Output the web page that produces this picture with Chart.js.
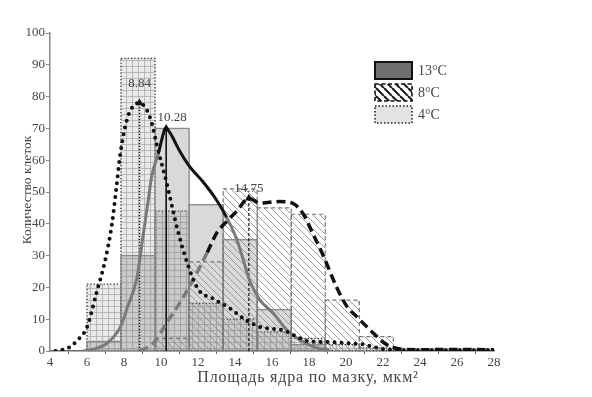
<!DOCTYPE html>
<html lang="ru">
<head>
<meta charset="UTF-8">
<title>Площадь ядра по мазку</title>
<script src="https://cdn.jsdelivr.net/npm/chart.js@4"></script>
<style>
  html, body { margin: 0; padding: 0; background: #fff; }
  #wrap { width: 592px; height: 397px; position: relative; }
</style>
</head>
<body>
<div id="wrap"><canvas id="c"></canvas></div>
<script>
// histogram bins (bin centres, мкм²) and counts per temperature
const binCenters = [6.92, 8.76, 10.60, 12.44, 14.28, 16.12, 17.96, 19.80, 21.64];
const counts13 = [3, 30, 70, 46, 35, 13, 2, 0, 0];
const counts8 = [0, 0, 4, 28, 51, 45, 43, 16, 4.5];
const counts4 = [21, 92, 44, 15, 10, 6, 4, 2, 1];

// smoothed curves
const curve13X = [5.8, 6.5, 7.1, 7.8, 8.2, 8.7, 9.0, 9.3, 9.5, 9.85, 10.28, 10.5, 11.0, 11.55, 12.3, 13.0, 13.55, 14.1, 14.45, 14.8, 15.35, 16.05, 16.8, 17.5, 18.4, 19.1];
const curve13Y = [0, 0.8, 2.5, 7.5, 14, 23, 35, 47, 55, 62, 70, 68.5, 63, 58, 53, 47.5, 42, 35, 28.6, 22, 16, 12, 6.6, 3.5, 1, 0.3];
const curve8X = [8.86, 9.6, 10.3, 11.0, 11.7, 12.5, 13.0, 13.6, 14.1, 14.75, 15.35, 16.4, 17.1, 17.7, 18.2, 18.8, 19.5, 20.05, 20.6, 21.5, 22.2, 23.1, 24, 26, 28];
const curve8Y = [0, 2.5, 8.8, 15, 22, 31, 37, 41, 44, 48, 46.5, 47, 46.5, 43, 37, 29.6, 20, 14, 10.7, 5.5, 2, 0.5, 0.4, 0.5, 0.4];
const curve4X = [4.3, 5.0, 5.5, 6.0, 6.5, 7.0, 7.35, 7.6, 7.8, 8.2, 8.84, 9.4, 9.85, 10.3, 10.9, 11.4, 12.0, 12.8, 13.7, 14.65, 15.4, 16.6, 17.35, 18.0, 19.0, 20.0, 21.0, 22.0, 23.0, 28.0];
const curve4Y = [0, 1, 3.5, 7.5, 18, 29, 40, 52, 62, 73.5, 78, 73.5, 63, 53, 38, 28, 19.5, 16.5, 13.5, 9.5, 7.5, 6.5, 4.5, 3, 2.8, 2.5, 2, 0.6, 0.3, 0.3];

// modes marked with arrows
const peakX = [8.84, 10.28, 14.75];
const peakY = [78, 70, 48];

const legendLabels = ['13°C', '8°C', '4°C'];
const xTitle = 'Площадь ядра по мазку, мкм²';
const yTitle = 'Количество клеток';

const canvas = document.getElementById('c');
const ctx0 = canvas.getContext('2d');

function gridPattern() {
  const t = document.createElement('canvas');
  t.width = 6; t.height = 6;
  const g = t.getContext('2d');
  g.fillStyle = 'rgba(232,232,232,0.9)';
  g.fillRect(0, 0, 6, 6);
  g.fillStyle = 'rgba(165,165,165,0.7)';
  g.fillRect(0, 0, 6, 1);
  g.fillRect(0, 0, 1, 6);
  return ctx0.createPattern(t, 'repeat');
}
function hatchPattern(s, color, lw) {
  const t = document.createElement('canvas');
  t.width = s; t.height = s;
  const g = t.getContext('2d');
  g.strokeStyle = color;
  g.lineWidth = lw;
  [-s, 0, s].forEach(k => {
    g.beginPath(); g.moveTo(k, 0); g.lineTo(k + s, s); g.stroke();
  });
  return ctx0.createPattern(t, 'repeat');
}

const pts = (xs, ys) => xs.map((x, i) => ({ x, y: ys[i] }));
const gray = '#7a7a7a';

const outline = {
  '13°C': { color: '#8a8a8a', dash: [], width: 1.3 },
  '8°C': { color: '#777', dash: [4, 3], width: 1.2 },
  '4°C': { color: '#333', dash: [1.3, 2], width: 1.3 }
};

const barOutline = {
  id: 'barOutline',
  afterDatasetDraw(chart, args) {
    const ds = chart.data.datasets[args.index];
    const o = outline[ds.label];
    if (!o || ds.type === 'line') return;
    const ctx = chart.ctx;
    ctx.save();
    ctx.strokeStyle = o.color;
    ctx.lineWidth = o.width;
    ctx.setLineDash(o.dash);
    args.meta.data.forEach(bar => {
      const p = bar.getProps(['x', 'y', 'base', 'width'], true);
      if (Math.abs(p.base - p.y) < 0.5) return;
      ctx.strokeRect(p.x - p.width / 2, p.y, p.width, p.base - p.y);
    });
    ctx.restore();
  }
};

const extras = {
  id: 'extras',
  afterDraw(chart) {
    const ctx = chart.ctx;
    const xs = chart.scales.x, ys = chart.scales.y;
    ctx.save();
    // peak labels
    ctx.font = '13px "Liberation Serif", serif';
    ctx.fillStyle = '#444';
    ctx.textAlign = 'center';
    ctx.textBaseline = 'middle';
    const off = [[0, -19], [6, -11], [0, -10]];
    peakX.forEach((v, i) => {
      ctx.fillText(String(v), xs.getPixelForValue(v) + off[i][0], ys.getPixelForValue(peakY[i]) + off[i][1]);
    });
    // legend
    const lx = 375, lw = 37, lh = 17, tops = [62, 84, 106];
    const fills = ['#6f6f6f', hatchPattern(8, '#222', 2.2), '#e3e3e3'];
    const borders = [[[], 2, '#111'], [[4, 2.5], 1.6, '#111'], [[1.5, 2], 1.6, '#222']];
    legendLabels.forEach((lab, i) => {
      ctx.fillStyle = fills[i];
      ctx.fillRect(lx, tops[i], lw, lh);
      ctx.setLineDash(borders[i][0]);
      ctx.lineWidth = borders[i][1];
      ctx.strokeStyle = borders[i][2];
      ctx.strokeRect(lx, tops[i], lw, lh);
      ctx.setLineDash([]);
      ctx.fillStyle = '#444';
      ctx.textAlign = 'left';
      ctx.font = '14px "Liberation Serif", serif';
      ctx.fillText(lab, 418, tops[i] + lh / 2 + 1);
    });
    // axis titles
    ctx.fillStyle = '#444';
    ctx.textAlign = 'center';
    ctx.font = '16px "Liberation Serif", serif';
    ctx.letterSpacing = '0.8px';
    ctx.fillText(xTitle, 308, 378);
    ctx.letterSpacing = '0px';
    ctx.translate(27, 190);
    ctx.rotate(-Math.PI / 2);
    ctx.font = '13.5px "Liberation Serif", serif';
    ctx.fillText(yTitle, 0, 0);
    ctx.restore();
  }
};

const arrow = (i, dash, width) => ({
  type: 'line',
  label: 'peak ' + peakX[i],
  data: [{ x: peakX[i], y: 0 }, { x: peakX[i], y: peakY[i] }],
  borderColor: '#111',
  borderWidth: width,
  borderDash: dash,
  tension: 0,
  pointStyle: 'triangle',
  pointRadius: [0, 4.5],
  pointBackgroundColor: '#111',
  pointBorderWidth: 0,
  order: 1
});

new Chart(canvas, {
  type: 'bar',
  data: {
    datasets: [
      {
        type: 'line', label: '4°C curve', data: pts(curve4X, curve4Y),
        borderColor: '#111', borderWidth: 4, borderDash: [0, 7], borderCapStyle: 'round',
        cubicInterpolationMode: 'monotone', pointRadius: 0, order: 0
      },
      {
        type: 'line', label: '8°C curve', data: pts(curve8X, curve8Y),
        borderWidth: 3.5, borderDash: [9, 5], borderColor: '#111',
        segment: { borderColor: c => c.p0.parsed.x < 11.8 ? gray : '#111' },
        cubicInterpolationMode: 'monotone', pointRadius: 0, order: 0
      },
      {
        type: 'line', label: '13°C curve', data: pts(curve13X, curve13Y),
        borderWidth: 3, borderColor: gray,
        segment: { borderColor: c => (c.p0.parsed.x >= 9.8 && c.p1.parsed.x <= 13.9) ? '#111' : gray },
        cubicInterpolationMode: 'monotone', pointRadius: 0, order: 0
      },
      arrow(0, [1.2, 1.8], 1.4),
      arrow(1, [], 1.6),
      arrow(2, [3, 2], 1.2),
      {
        label: '8°C', data: pts(binCenters, counts8),
        backgroundColor: hatchPattern(7, 'rgba(140,140,140,0.85)', 1),
        borderWidth: 0, order: 10
      },
      {
        label: '13°C', data: pts(binCenters, counts13),
        backgroundColor: 'rgba(120,120,120,0.28)',
        borderWidth: 0, order: 11
      },
      {
        label: '4°C', data: pts(binCenters, counts4),
        backgroundColor: gridPattern(),
        borderWidth: 0, order: 12
      }
    ]
  },
  options: {
    responsive: true,
    maintainAspectRatio: false,
    animation: false,
    grouped: false,
    barPercentage: 1,
    categoryPercentage: 1,
    layout: { padding: { left: 0, right: 98, top: 33, bottom: 0 } },
    plugins: { legend: { display: false }, tooltip: { enabled: false } },
    scales: {
      x: {
        type: 'linear', min: 4, max: 28, offset: false,
        afterFit: s => { s.height = 46; },
        border: { color: '#666', width: 1.5 },
        grid: { display: true, drawOnChartArea: false, tickLength: 3, color: '#666' },
        ticks: { stepSize: 2, color: '#444', padding: 1, font: { family: '"Liberation Serif", serif', size: 13 } }
      },
      y: {
        min: 0, max: 100,
        afterFit: s => { s.width = 50; },
        border: { color: '#888', width: 1.5 },
        grid: { display: true, drawOnChartArea: false, tickLength: 4, color: '#888' },
        ticks: { stepSize: 10, color: '#444', padding: 1, font: { family: '"Liberation Serif", serif', size: 13 } }
      }
    }
  },
  plugins: [barOutline, extras]
});
</script>
</body>
</html>
